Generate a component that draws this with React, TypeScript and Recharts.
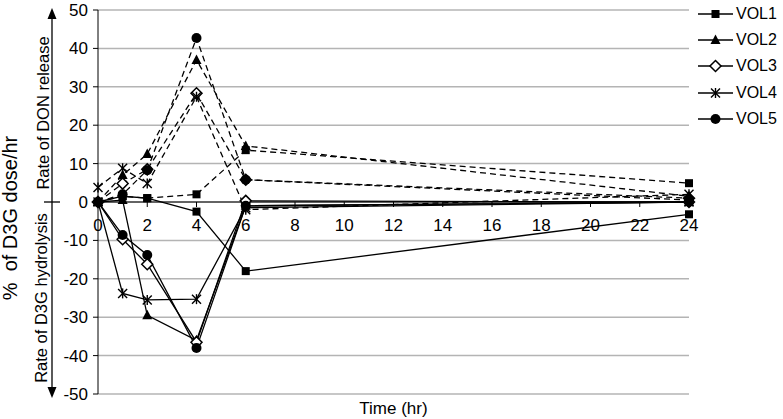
import { CartesianGrid, Line, LineChart, ReferenceLine, XAxis, YAxis } from "recharts";

// Sampling times (hr)
const times = [0, 1, 2, 4, 6, 24];

// Rate of D3G hydrolysis (solid) and DON release (dashed), % of D3G dose/hr
const vol1Hydrolysis = [0, 1.5, 1, -2.5, -18, -3.2];
const vol1Release = [0, 1.5, 1, 2, 13.5, 4.9];
const vol2Hydrolysis = [0, 0.5, -29.5, -36, -1, 0];
const vol2Release = [0, 7, 12.5, 37, 14.6, 1.5];
const vol3Hydrolysis = [0, -9.7, -16.2, -36.5, 0.3, 0];
const vol3Release = [0, 4.8, 8.5, 28.3, 5.8, 1];
const vol4Hydrolysis = [0, -23.8, -25.5, -25.3, -1.5, 0];
const vol4Release = [3.8, 8.8, 4.8, 27.4, -2, 2];
const vol5Hydrolysis = [0, -8.6, -13.8, -38, -1, 0];
const vol5Release = [0, 2, 8.3, 42.7, 5.8, 0.5];

const xTicks = [0, 2, 4, 6, 8, 10, 12, 14, 16, 18, 20, 22, 24];
const yTicks = [-50, -40, -30, -20, -10, 0, 10, 20, 30, 40, 50];

type Shape = "square" | "triangle" | "diamond" | "star" | "circle";

const volunteers: { name: string; shape: Shape; hydrolysis: number[]; release: number[] }[] = [
	{ name: "VOL1", shape: "square", hydrolysis: vol1Hydrolysis, release: vol1Release },
	{ name: "VOL2", shape: "triangle", hydrolysis: vol2Hydrolysis, release: vol2Release },
	{ name: "VOL3", shape: "diamond", hydrolysis: vol3Hydrolysis, release: vol3Release },
	{ name: "VOL4", shape: "star", hydrolysis: vol4Hydrolysis, release: vol4Release },
	{ name: "VOL5", shape: "circle", hydrolysis: vol5Hydrolysis, release: vol5Release },
];

const data = times.map((time, i) => {
	const row: Record<string, number> = { time };
	volunteers.forEach((v) => {
		row[`${v.name}_h`] = v.hydrolysis[i];
		row[`${v.name}_r`] = v.release[i];
	});
	return row;
});

const WIDTH = 783;
const HEIGHT = 419;
const MARGIN = { top: 10, right: 94, bottom: 0, left: 0 };
const X_AXIS_HEIGHT = 25;
const PLOT_BOTTOM = HEIGHT - MARGIN.bottom - X_AXIS_HEIGHT;
// x axis crosses at y = 0, the middle of the symmetric domain
const ZERO_Y = MARGIN.top + (PLOT_BOTTOM - MARGIN.top) / 2;
const FONT = "'Liberation Sans', Arial, sans-serif";

function Marker({ shape, cx, cy }: { shape: Shape; cx: number; cy: number }) {
	if (cx == null || cy == null) return null;
	switch (shape) {
		case "square":
			return <rect x={cx - 4} y={cy - 4} width={8} height={8} fill="#000" />;
		case "triangle":
			return <polygon points={`${cx},${cy - 5.5} ${cx + 5},${cy + 4} ${cx - 5},${cy + 4}`} fill="#000" />;
		case "diamond":
			return (
				<polygon
					points={`${cx},${cy - 5.5} ${cx + 5.5},${cy} ${cx},${cy + 5.5} ${cx - 5.5},${cy}`}
					fill="#fff"
					stroke="#000"
					strokeWidth={1.5}
				/>
			);
		case "star":
			return (
				<g stroke="#000" strokeWidth={1.4}>
					<line x1={cx - 4.5} y1={cy - 4.5} x2={cx + 4.5} y2={cy + 4.5} />
					<line x1={cx - 4.5} y1={cy + 4.5} x2={cx + 4.5} y2={cy - 4.5} />
					<line x1={cx} y1={cy - 5} x2={cx} y2={cy + 5} />
				</g>
			);
		default:
			return <circle cx={cx} cy={cy} r={5} fill="#000" />;
	}
}

function XTick({ x, payload }: any) {
	return (
		<g>
			<line x1={x} x2={x} y1={ZERO_Y} y2={ZERO_Y + 5} stroke="#000" />
			<text x={x} y={ZERO_Y + 29} textAnchor="middle" fontSize={17} fontFamily={FONT} fill="#000">
				{payload.value}
			</text>
		</g>
	);
}

// axis title plus the double arrow with its two annotations
function AxisTitles() {
	const ax = 52;
	return (
		<g fontFamily={FONT} fill="#000">
			<text
				transform={`translate(17, 218) rotate(-90)`}
				textAnchor="middle"
				fontSize={20}
				style={{ whiteSpace: "pre" }}
			>
				{"%  of D3G dose/hr"}
			</text>
			<text transform={`translate(49, 113) rotate(-90)`} textAnchor="middle" fontSize={16.5}>
				Rate of DON release
			</text>
			<text transform={`translate(47, 298) rotate(-90)`} textAnchor="middle" fontSize={16.5}>
				Rate of D3G hydrolysis
			</text>
			<line x1={ax} x2={ax} y1={16} y2={390} stroke="#000" strokeWidth={1.3} />
			<line x1={ax - 8} x2={ax + 8} y1={ZERO_Y} y2={ZERO_Y} stroke="#000" strokeWidth={1.3} />
			<polygon points={`${ax},${8} ${ax + 4.5},${19} ${ax - 4.5},${19}`} fill="#000" />
			<polygon points={`${ax},${398} ${ax + 4.5},${387} ${ax - 4.5},${387}`} fill="#000" />
		</g>
	);
}

function LegendBox() {
	return (
		<div style={{ position: "absolute", left: 697, top: 1, fontFamily: FONT, fontSize: 16 }}>
			{volunteers.map((v) => (
				<div key={v.name} style={{ display: "flex", alignItems: "center", height: 26.2 }}>
					<svg width={38} height={20}>
						<line x1={1} x2={36} y1={10} y2={10} stroke="#000" strokeWidth={1.3} />
						<Marker shape={v.shape} cx={18.5} cy={10} />
					</svg>
					<span style={{ marginLeft: 1 }}>{v.name}</span>
				</div>
			))}
		</div>
	);
}

export default function App() {
	return (
		<div style={{ position: "absolute", left: 0, top: 0, width: WIDTH, height: HEIGHT, background: "#fff" }}>
			<LineChart width={WIDTH} height={HEIGHT} data={data} margin={MARGIN}>
				<CartesianGrid vertical={false} stroke="#b4b4b4" strokeWidth={1.5} />
				<XAxis
					type="number"
					dataKey="time"
					domain={[0, 24]}
					ticks={xTicks}
					interval={0}
					height={X_AXIS_HEIGHT}
					axisLine={false}
					tickLine={false}
					tick={<XTick />}
					label={{ value: "Time (hr)", position: "insideBottom", offset: 5, fill: "#000", fontSize: 17, fontFamily: FONT }}
				/>
				<YAxis
					type="number"
					domain={[-50, 50]}
					ticks={yTicks}
					interval={0}
					width={98}
					axisLine={{ stroke: "#000", strokeWidth: 1 }}
					tickLine={{ stroke: "#000" }}
					tickSize={5}
					tickMargin={5}
					tick={{ fill: "#000", fontSize: 17, fontFamily: FONT }}
					label={{ content: () => <AxisTitles /> }}
				/>
				<ReferenceLine y={0} stroke="#000" strokeWidth={1} />
				{volunteers.map((v) => (
					<Line
						key={`${v.name}_r`}
						type="linear"
						dataKey={`${v.name}_r`}
						stroke="#000"
						strokeWidth={1.3}
						strokeDasharray="6 4"
						dot={(p: any) => <Marker key={`${v.name}_r_${p.index}`} shape={v.shape} cx={p.cx} cy={p.cy} />}
						activeDot={false}
						isAnimationActive={false}
					/>
				))}
				{volunteers.map((v) => (
					<Line
						key={`${v.name}_h`}
						type="linear"
						dataKey={`${v.name}_h`}
						stroke="#000"
						strokeWidth={1.3}
						dot={(p: any) => <Marker key={`${v.name}_h_${p.index}`} shape={v.shape} cx={p.cx} cy={p.cy} />}
						activeDot={false}
						isAnimationActive={false}
					/>
				))}
			</LineChart>
			<LegendBox />
		</div>
	);
}
